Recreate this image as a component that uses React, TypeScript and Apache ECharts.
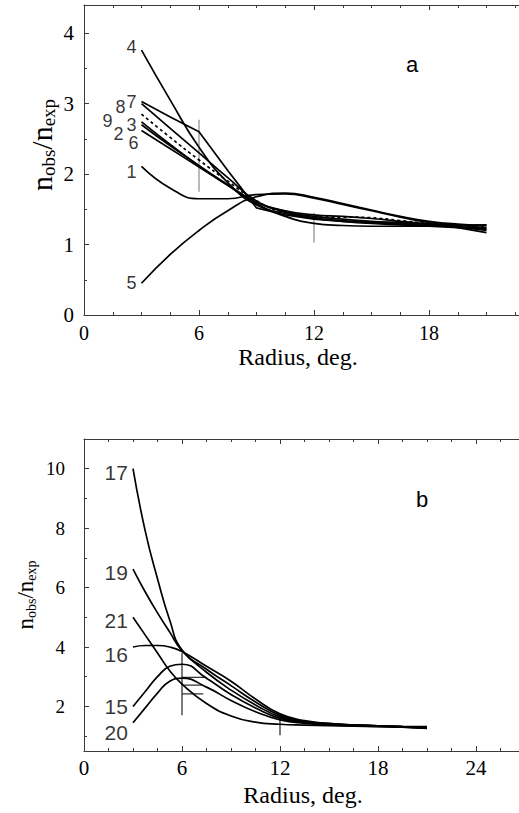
import React, { useEffect, useRef } from "react";
import * as echarts from "echarts";

// ---------- Panel a data ----------
const radiusA = [3, 4.5, 6, 7.5, 9, 10.5, 12, 13.5, 15, 16.5, 18, 19.5, 21];
const a1 = [2.11, 1.8, 1.65, 1.65, 1.71, 1.72, 1.66, 1.57, 1.48, 1.39, 1.31, 1.24, 1.17];
const a2 = [2.7, 2.4, 2.12, 1.84, 1.58, 1.4, 1.3, 1.27, 1.26, 1.26, 1.26, 1.27, 1.28];
const a3 = [2.74, 2.42, 2.12, 1.85, 1.6, 1.46, 1.38, 1.34, 1.31, 1.29, 1.27, 1.25, 1.23];
const a4 = [3.76, 3.05, 2.38, 1.88, 1.56, 1.44, 1.37, 1.33, 1.3, 1.28, 1.26, 1.24, 1.22];
const a5 = [0.45, 0.86, 1.2, 1.48, 1.68, 1.73, 1.67, 1.58, 1.49, 1.4, 1.33, 1.29, 1.27];
const a6 = [2.62, 2.36, 2.1, 1.84, 1.6, 1.48, 1.42, 1.4, 1.37, 1.33, 1.29, 1.25, 1.2];
const a7 = [3.03, 2.81, 2.6, 2.05, 1.52, 1.42, 1.36, 1.33, 1.31, 1.3, 1.29, 1.28, 1.27];
const a8 = [3.0, 2.65, 2.3, 1.95, 1.62, 1.47, 1.4, 1.36, 1.33, 1.31, 1.29, 1.27, 1.24];
const a9 = [2.85, 2.52, 2.2, 1.9, 1.62, 1.45, 1.39, 1.39, 1.38, 1.34, 1.3, 1.28, 1.26];
const curvesA = [
  { name: "1", values: a1 },
  { name: "2", values: a2 },
  { name: "3", values: a3 },
  { name: "4", values: a4 },
  { name: "5", values: a5 },
  { name: "6", values: a6 },
  { name: "7", values: a7, straight: true },
  { name: "8", values: a8 },
  { name: "9", values: a9, dotted: true },
];
// error bars: [x, low, high]
const errA = [
  [6, 1.75, 2.77],
  [12, 1.03, 1.45],
];

// ---------- Panel b data ----------
const radiusB = [3, 3.75, 4.5, 5.25, 6, 7.5, 9, 10.5, 12, 13.5, 15, 16.5, 18, 19.5, 21];
const b15 = [2.0, 2.5, 3.0, 3.35, 3.42, 2.95, 2.4, 1.95, 1.6, 1.46, 1.4, 1.37, 1.35, 1.32, 1.3];
const b16 = [4.0, 4.05, 4.05, 4.0, 3.85, 3.35, 2.85, 2.25, 1.75, 1.52, 1.43, 1.38, 1.35, 1.33, 1.32];
const b17 = [10.0, 7.9, 6.3, 4.9, 3.9, 3.25, 2.7, 2.15, 1.7, 1.5, 1.42, 1.38, 1.35, 1.31, 1.28];
const b19 = [6.62, 5.85, 5.15, 4.5, 3.88, 3.15, 2.55, 2.05, 1.65, 1.48, 1.41, 1.37, 1.34, 1.31, 1.28];
const b20 = [1.45, 1.95, 2.45, 2.85, 2.95, 2.65, 2.2, 1.82, 1.55, 1.43, 1.38, 1.35, 1.33, 1.3, 1.27];
const b21 = [5.0, 4.4, 3.8, 3.2, 2.75, 2.1, 1.68, 1.47, 1.4, 1.37, 1.35, 1.34, 1.32, 1.3, 1.26];
const curvesB = [
  { name: "15", values: b15 },
  { name: "16", values: b16 },
  { name: "17", values: b17 },
  { name: "19", values: b19 },
  { name: "20", values: b20 },
  { name: "21", values: b21 },
];
const errB = [
  [6, 1.7, 3.8],
  [12, 1.03, 1.78],
];
// horizontal segments: [x0, x1, y]
const capsB = [
  [6, 7.5, 2.98],
  [6, 7.3, 2.72],
  [6, 7.3, 2.42],
];

// ---------- Ticks ----------
const xMajorA = [0, 6, 12, 18, 24];
const xLabelA = [0, 6, 12, 18];
const xMinorA = [1.5, 3, 4.5, 7.5, 9, 10.5, 13.5, 15, 16.5, 19.5, 21, 22.5];
const yMajorA = [0, 1, 2, 3, 4];
const yMinorA = [0.5, 1.5, 2.5, 3.5];
const xMajorB = [0, 6, 12, 18, 24, 30];
const xLabelB = [0, 6, 12, 18, 24];
const xMinorB = [1.5, 3, 4.5, 7.5, 9, 10.5, 13.5, 15, 16.5, 19.5, 21, 22.5, 25.5, 27, 28.5];
const yMajorB = [2, 4, 6, 8, 10];
const yMinorB = [1, 3, 5, 7, 9];

// label offsets (layout only)
const labelOffA: Record<string, number[]> = {
  "1": [0, 6],
  "2": [-13, 9],
  "3": [0, 3],
  "4": [0, -3],
  "5": [0, 0],
  "6": [2, 13],
  "7": [0, 0],
  "8": [-11, 3],
  "9": [-24, 7],
};
const labelOffB: Record<string, number[]> = {
  "15": [0, 0],
  "16": [0, 7],
  "17": [0, 4],
  "19": [0, 3],
  "20": [0, 10],
  "21": [0, 3],
};

const SERIF = "'Liberation Serif', 'Times New Roman', serif";
const SANS = "'Liberation Sans', Arial, sans-serif";
const AX = "#3a3a3a";

function axes(
  gridIndex: number,
  position: string,
  min: number,
  max: number,
  major: number[],
  minor: number[],
  labels: number[] | null,
  fontSize: number,
  margin: number
) {
  const main: any = {
    type: "value",
    gridIndex,
    position,
    min,
    max,
    axisLine: { show: true, onZero: false, lineStyle: { color: AX, width: 1 } },
    axisTick: { show: true, inside: true, length: 5, customValues: major, lineStyle: { color: AX, width: 1 } },
    axisLabel: labels
      ? { show: true, customValues: labels, fontFamily: SERIF, fontSize, color: "#000", margin }
      : { show: false },
    splitLine: { show: false },
  };
  const sub: any = {
    type: "value",
    gridIndex,
    position,
    min,
    max,
    axisLine: { show: false, onZero: false },
    axisTick: { show: true, inside: true, length: 3, customValues: minor, lineStyle: { color: AX, width: 1 } },
    axisLabel: { show: false },
    splitLine: { show: false },
  };
  return [main, sub];
}

export default function App() {
  const ref = useRef<HTMLDivElement>(null);
  useEffect(() => {
    if (!ref.current) return;
    const chart = echarts.init(ref.current, null, { renderer: "svg" });

    const xAxis = [
      ...axes(0, "bottom", 0, 24, xMajorA, xMinorA, xLabelA, 20, 8),
      ...axes(0, "top", 0, 24, xMajorA, xMinorA, null, 20, 8),
      ...axes(1, "bottom", 0, 30, xMajorB, xMinorB, xLabelB, 21, 6),
      ...axes(1, "top", 0, 30, xMajorB, xMinorB, null, 21, 6),
    ];
    const yAxis = [
      ...axes(0, "left", 0, 4.4, yMajorA, yMinorA, yMajorA, 21, 10),
      ...axes(1, "left", 0.5, 11, yMajorB, yMinorB, yMajorB, 19, 19),
    ];

    const series: any[] = [];
    const addPanel = (
      curves: any[],
      radius: number[],
      err: number[][],
      xi: number,
      yi: number,
      offs: Record<string, number[]>,
      fontSize: number,
      errColor: string
    ) => {
      curves.forEach((c) => {
        series.push({
          type: "line",
          xAxisIndex: xi,
          yAxisIndex: yi,
          data: radius.map((x, i) => [x, c.values[i]]),
          smooth: c.straight ? false : 0.5,
          symbol: "none",
          silent: true,
          z: 3,
          lineStyle: { color: "#000", width: 1.7, type: c.dotted ? [3, 3] : "solid" },
        });
      });
      err.forEach((e) => {
        series.push({
          type: "line",
          xAxisIndex: xi,
          yAxisIndex: yi,
          data: [
            [e[0], e[1]],
            [e[0], e[2]],
          ],
          symbol: "none",
          silent: true,
          z: 2,
          lineStyle: { color: errColor, width: 1.2 },
        });
      });
      series.push({
        type: "scatter",
        xAxisIndex: xi,
        yAxisIndex: yi,
        symbolSize: 0.1,
        silent: true,
        itemStyle: { color: "rgba(0,0,0,0)" },
        data: curves.map((c) => ({
          name: c.name,
          value: [radius[0], c.values[0]],
          label: { offset: offs[c.name] || [0, 0] },
        })),
        label: {
          show: true,
          position: "left",
          distance: 5,
          formatter: "{b}",
          fontFamily: SANS,
          fontSize,
          lineHeight: fontSize,
          color: "#000",
        },
      });
    };
    addPanel(curvesA, radiusA, errA, 0, 0, labelOffA, 18, "#8a8a8a");
    addPanel(curvesB, radiusB, errB, 4, 2, labelOffB, 21, "#222");
    capsB.forEach((c) => {
      series.push({
        type: "line",
        xAxisIndex: 4,
        yAxisIndex: 2,
        data: [
          [c[0], c[2]],
          [c[1], c[2]],
        ],
        symbol: "none",
        silent: true,
        z: 2,
        lineStyle: { color: "#333", width: 1.2 },
      });
    });

    const yTitle = (x: number, y: number, big: number, small: number, shift: number) => ({
      type: "text",
      x,
      y,
      rotation: Math.PI / 2,
      style: {
        text: "{n|n}{s|obs}{n|/n}{s|exp}",
        align: "center",
        verticalAlign: "middle",
        fill: "#000",
        fontFamily: SERIF,
        rich: {
          n: { fontFamily: SERIF, fontSize: big, lineHeight: big + 4, fill: "#000" },
          s: { fontFamily: SERIF, fontSize: small, lineHeight: shift, verticalAlign: "bottom", fill: "#000" },
        },
      },
    });

    const plain = (x: number, y: number, text: string, font: string, size: number) => ({
      type: "text",
      x,
      y,
      style: { text, fontFamily: font, fontSize: size, fill: "#000", align: "center", verticalAlign: "middle" },
    });

    chart.setOption({
      animation: false,
      backgroundColor: "#fff",
      grid: [
        { left: 84, top: 5, width: 460, height: 310, containLabel: false, outerBoundsMode: "none" },
        { left: 84, top: 439, width: 490, height: 312, containLabel: false, outerBoundsMode: "none" },
      ],
      xAxis,
      yAxis,
      series,
      graphic: [
        yTitle(41, 145, 30, 19, 12),
        yTitle(25, 595, 23, 14, 10),
        plain(298, 357, "Radius, deg.", SERIF, 24),
        plain(303, 795, "Radius, deg.", SERIF, 24),
        plain(412, 64, "a", SANS, 22),
        plain(422, 499, "b", SANS, 22),
      ],
    });
    return () => chart.dispose();
  }, []);
  return (
    <div
      ref={ref}
      style={{ position: "fixed", left: 0, top: 0, width: 519, height: 813, background: "#fff" }}
    />
  );
}
